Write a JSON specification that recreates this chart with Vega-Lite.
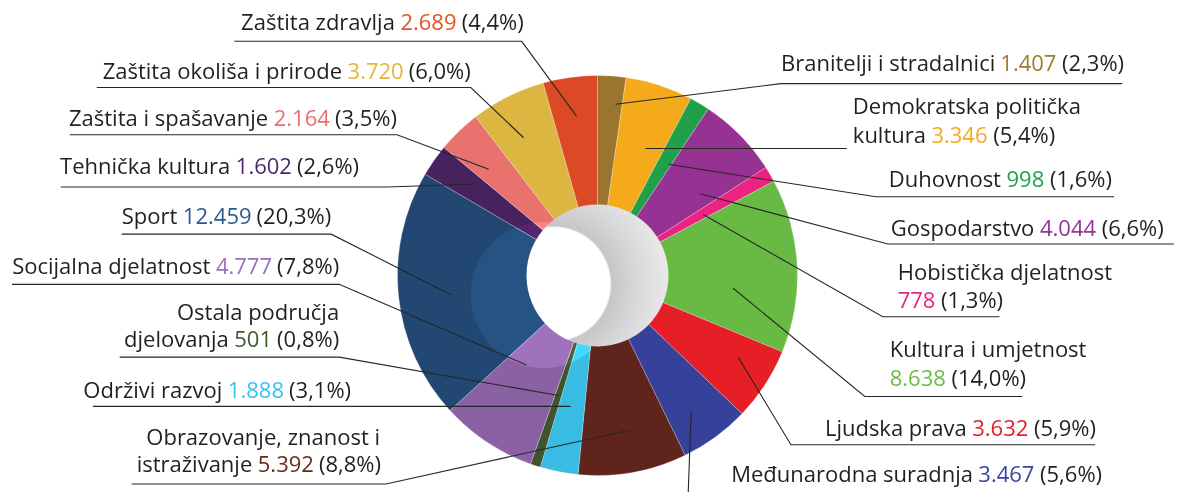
{
  "$schema": "https://vega.github.io/schema/vega-lite/v6.json",
  "width": 1177,
  "height": 495,
  "autosize": {"type": "fit", "contains": "padding"},
  "padding": 0,
  "background": "#ffffff",
  "config": {"view": {"stroke": null}},
  "resolve": {"scale": {"color": "independent"}},
  "datasets": {
    "slices": [
      {"ord": 1, "cat": "Branitelji i stradalnici", "value": 1407, "pct": 2.3},
      {"ord": 2, "cat": "Demokratska politička kultura", "value": 3346, "pct": 5.4},
      {"ord": 3, "cat": "Duhovnost", "value": 998, "pct": 1.6},
      {"ord": 4, "cat": "Gospodarstvo", "value": 4044, "pct": 6.6},
      {"ord": 5, "cat": "Hobistička djelatnost", "value": 778, "pct": 1.3},
      {"ord": 6, "cat": "Kultura i umjetnost", "value": 8638, "pct": 14.0},
      {"ord": 7, "cat": "Ljudska prava", "value": 3632, "pct": 5.9},
      {"ord": 8, "cat": "Međunarodna suradnja", "value": 3467, "pct": 5.6},
      {"ord": 9, "cat": "Obrazovanje, znanost i istraživanje", "value": 5392, "pct": 8.8},
      {"ord": 10, "cat": "Održivi razvoj", "value": 1888, "pct": 3.1},
      {"ord": 11, "cat": "Ostala područja djelovanja", "value": 501, "pct": 0.8},
      {"ord": 12, "cat": "Socijalna djelatnost", "value": 4777, "pct": 7.8},
      {"ord": 13, "cat": "Sport", "value": 12459, "pct": 20.3},
      {"ord": 14, "cat": "Tehnička kultura", "value": 1602, "pct": 2.6},
      {"ord": 15, "cat": "Zaštita i spašavanje", "value": 2164, "pct": 3.5},
      {"ord": 16, "cat": "Zaštita okoliša i prirode", "value": 3720, "pct": 6.0},
      {"ord": 17, "cat": "Zaštita zdravlja", "value": 2689, "pct": 4.4}
    ],
    "leaders": [
      {"cat": "Zaštita zdravlja", "seq": 1, "x": -10.5, "y": 81},
      {"cat": "Zaštita zdravlja", "seq": 2, "x": -38, "y": 119},
      {"cat": "Zaštita zdravlja", "seq": 3, "x": -182, "y": 119},
      {"cat": "Zaštita okoliša i prirode", "seq": 1, "x": -37, "y": 70},
      {"cat": "Zaštita okoliša i prirode", "seq": 2, "x": -63.5, "y": 95.5},
      {"cat": "Zaštita okoliša i prirode", "seq": 3, "x": -251, "y": 95.5},
      {"cat": "Zaštita i spašavanje", "seq": 1, "x": -54.5, "y": 54},
      {"cat": "Zaštita i spašavanje", "seq": 2, "x": -100.5, "y": 71.5},
      {"cat": "Zaštita i spašavanje", "seq": 3, "x": -264.5, "y": 71.5},
      {"cat": "Tehnička kultura", "seq": 1, "x": -61, "y": 46.5},
      {"cat": "Tehnička kultura", "seq": 2, "x": -105.5, "y": 45},
      {"cat": "Tehnička kultura", "seq": 3, "x": -269, "y": 45},
      {"cat": "Sport", "seq": 1, "x": -73, "y": -10},
      {"cat": "Sport", "seq": 2, "x": -133.5, "y": 21},
      {"cat": "Sport", "seq": 3, "x": -238.5, "y": 21},
      {"cat": "Socijalna djelatnost", "seq": 1, "x": -35.5, "y": -45.5},
      {"cat": "Socijalna djelatnost", "seq": 2, "x": -129.5, "y": -4.5},
      {"cat": "Socijalna djelatnost", "seq": 3, "x": -293.5, "y": -4.5},
      {"cat": "Ostala područja djelovanja", "seq": 1, "x": -19.5, "y": -61},
      {"cat": "Ostala područja djelovanja", "seq": 2, "x": -129.5, "y": -41.5},
      {"cat": "Ostala područja djelovanja", "seq": 3, "x": -239.5, "y": -41.5},
      {"cat": "Održivi razvoj", "seq": 1, "x": -13.5, "y": -66.5},
      {"cat": "Održivi razvoj", "seq": 2, "x": -253, "y": -66.5},
      {"cat": "Obrazovanje, znanost i istraživanje", "seq": 1, "x": 16.5, "y": -78.5},
      {"cat": "Obrazovanje, znanost i istraživanje", "seq": 2, "x": -106, "y": -106},
      {"cat": "Obrazovanje, znanost i istraživanje", "seq": 3, "x": -233.5, "y": -106},
      {"cat": "Branitelji i stradalnici", "seq": 1, "x": 9, "y": 87},
      {"cat": "Branitelji i stradalnici", "seq": 2, "x": 92, "y": 97.5},
      {"cat": "Branitelji i stradalnici", "seq": 3, "x": 263, "y": 97.5},
      {"cat": "Demokratska politička kultura", "seq": 1, "x": 24, "y": 64.5},
      {"cat": "Demokratska politička kultura", "seq": 2, "x": 125, "y": 64.5},
      {"cat": "Duhovnost", "seq": 1, "x": 35.5, "y": 56.5},
      {"cat": "Duhovnost", "seq": 2, "x": 139.5, "y": 40},
      {"cat": "Duhovnost", "seq": 3, "x": 259, "y": 40},
      {"cat": "Gospodarstvo", "seq": 1, "x": 51.5, "y": 41.5},
      {"cat": "Gospodarstvo", "seq": 2, "x": 145.5, "y": 16},
      {"cat": "Gospodarstvo", "seq": 3, "x": 289, "y": 16},
      {"cat": "Hobistička djelatnost", "seq": 1, "x": 53, "y": 31},
      {"cat": "Hobistička djelatnost", "seq": 2, "x": 143, "y": -21},
      {"cat": "Hobistička djelatnost", "seq": 3, "x": 201.5, "y": -21},
      {"cat": "Kultura i umjetnost", "seq": 1, "x": 68, "y": -6.5},
      {"cat": "Kultura i umjetnost", "seq": 2, "x": 134, "y": -61.5},
      {"cat": "Kultura i umjetnost", "seq": 3, "x": 213, "y": -61.5},
      {"cat": "Ljudska prava", "seq": 1, "x": 70.5, "y": -41.5},
      {"cat": "Ljudska prava", "seq": 2, "x": 97, "y": -86},
      {"cat": "Ljudska prava", "seq": 3, "x": 249.5, "y": -86},
      {"cat": "Međunarodna suradnja", "seq": 1, "x": 47, "y": -68.5},
      {"cat": "Međunarodna suradnja", "seq": 2, "x": 45.5, "y": -110}
    ],
    "labels": [
      {"cat": "Zaštita zdravlja", "side": "L", "part": "name", "text": "Zaštita zdravlja", "lx": -101.55, "ly": 124.5},
      {"cat": "Zaštita zdravlja", "side": "L", "part": "num", "text": "2.689", "lx": -70.65, "ly": 124.5},
      {"cat": "Zaštita zdravlja", "side": "L", "part": "pct", "text": "(4,4%)", "lx": -37, "ly": 124.5},
      {"cat": "Zaštita okoliša i prirode", "side": "L", "part": "name", "text": "Zaštita okoliša i prirode", "lx": -128.05, "ly": 100},
      {"cat": "Zaštita okoliša i prirode", "side": "L", "part": "num", "text": "3.720", "lx": -97.15, "ly": 100},
      {"cat": "Zaštita okoliša i prirode", "side": "L", "part": "pct", "text": "(6,0%)", "lx": -63.5, "ly": 100},
      {"cat": "Zaštita i spašavanje", "side": "L", "part": "name", "text": "Zaštita i spašavanje", "lx": -165.05, "ly": 76},
      {"cat": "Zaštita i spašavanje", "side": "L", "part": "num", "text": "2.164", "lx": -134.15, "ly": 76},
      {"cat": "Zaštita i spašavanje", "side": "L", "part": "pct", "text": "(3,5%)", "lx": -100.5, "ly": 76},
      {"cat": "Tehnička kultura", "side": "L", "part": "name", "text": "Tehnička kultura", "lx": -184.05, "ly": 51.5},
      {"cat": "Tehnička kultura", "side": "L", "part": "num", "text": "1.602", "lx": -153.15, "ly": 51.5},
      {"cat": "Tehnička kultura", "side": "L", "part": "pct", "text": "(2,6%)", "lx": -119.5, "ly": 51.5},
      {"cat": "Sport", "side": "L", "part": "name", "text": "Sport", "lx": -210.65, "ly": 26},
      {"cat": "Sport", "side": "L", "part": "num", "text": "12.459", "lx": -173.4, "ly": 26},
      {"cat": "Sport", "side": "L", "part": "pct", "text": "(20,3%)", "lx": -133.5, "ly": 26},
      {"cat": "Socijalna djelatnost", "side": "L", "part": "name", "text": "Socijalna djelatnost", "lx": -194.05, "ly": 1},
      {"cat": "Socijalna djelatnost", "side": "L", "part": "num", "text": "4.777", "lx": -163.15, "ly": 1},
      {"cat": "Socijalna djelatnost", "side": "L", "part": "pct", "text": "(7,8%)", "lx": -129.5, "ly": 1},
      {"cat": "Ostala područja djelovanja", "side": "L", "part": "name", "text": "Ostala područja", "lx": -129.5, "ly": -22.5},
      {"cat": "Ostala područja djelovanja", "side": "L", "part": "name", "text": "djelovanja", "lx": -184.85, "ly": -36.5},
      {"cat": "Ostala područja djelovanja", "side": "L", "part": "num", "text": "501", "lx": -163.15, "ly": -36.5},
      {"cat": "Ostala područja djelovanja", "side": "L", "part": "pct", "text": "(0,8%)", "lx": -129.5, "ly": -36.5},
      {"cat": "Održivi razvoj", "side": "L", "part": "name", "text": "Održivi razvoj", "lx": -188.05, "ly": -62.5},
      {"cat": "Održivi razvoj", "side": "L", "part": "num", "text": "1.888", "lx": -157.15, "ly": -62.5},
      {"cat": "Održivi razvoj", "side": "L", "part": "pct", "text": "(3,1%)", "lx": -123.5, "ly": -62.5},
      {"cat": "Obrazovanje, znanost i istraživanje", "side": "L", "part": "name", "text": "Obrazovanje, znanost i", "lx": -109, "ly": -86},
      {"cat": "Obrazovanje, znanost i istraživanje", "side": "L", "part": "name", "text": "istraživanje", "lx": -173.05, "ly": -100},
      {"cat": "Obrazovanje, znanost i istraživanje", "side": "L", "part": "num", "text": "5.392", "lx": -142.15, "ly": -100},
      {"cat": "Obrazovanje, znanost i istraživanje", "side": "L", "part": "pct", "text": "(8,8%)", "lx": -108.5, "ly": -100},
      {"cat": "Branitelji i stradalnici", "side": "R", "part": "name", "text": "Branitelji i stradalnici", "lx": 92, "ly": 104},
      {"cat": "Branitelji i stradalnici", "side": "R", "part": "num", "text": "1.407", "lx": 201.95, "ly": 104},
      {"cat": "Branitelji i stradalnici", "side": "R", "part": "pct", "text": "(2,3%)", "lx": 232.9, "ly": 104},
      {"cat": "Demokratska politička kultura", "side": "R", "part": "name", "text": "Demokratska politička", "lx": 128, "ly": 82},
      {"cat": "Demokratska politička kultura", "side": "R", "part": "name", "text": "kultura", "lx": 128, "ly": 67.5},
      {"cat": "Demokratska politička kultura", "side": "R", "part": "num", "text": "3.346", "lx": 167.4, "ly": 67.5},
      {"cat": "Demokratska politička kultura", "side": "R", "part": "pct", "text": "(5,4%)", "lx": 198.35, "ly": 67.5},
      {"cat": "Duhovnost", "side": "R", "part": "name", "text": "Duhovnost", "lx": 146, "ly": 45},
      {"cat": "Duhovnost", "side": "R", "part": "num", "text": "998", "lx": 205.05, "ly": 45},
      {"cat": "Duhovnost", "side": "R", "part": "pct", "text": "(1,6%)", "lx": 226.8, "ly": 45},
      {"cat": "Gospodarstvo", "side": "R", "part": "name", "text": "Gospodarstvo", "lx": 147, "ly": 20},
      {"cat": "Gospodarstvo", "side": "R", "part": "num", "text": "4.044", "lx": 221.8, "ly": 20},
      {"cat": "Gospodarstvo", "side": "R", "part": "pct", "text": "(6,6%)", "lx": 252.75, "ly": 20},
      {"cat": "Hobistička djelatnost", "side": "R", "part": "name", "text": "Hobistička djelatnost", "lx": 150.5, "ly": -2.5},
      {"cat": "Hobistička djelatnost", "side": "R", "part": "num", "text": "778", "lx": 150.5, "ly": -16.5},
      {"cat": "Hobistička djelatnost", "side": "R", "part": "pct", "text": "(1,3%)", "lx": 172.25, "ly": -16.5},
      {"cat": "Kultura i umjetnost", "side": "R", "part": "name", "text": "Kultura i umjetnost", "lx": 146.5, "ly": -41.5},
      {"cat": "Kultura i umjetnost", "side": "R", "part": "num", "text": "8.638", "lx": 146.5, "ly": -56},
      {"cat": "Kultura i umjetnost", "side": "R", "part": "pct", "text": "(14,0%)", "lx": 177.45, "ly": -56},
      {"cat": "Ljudska prava", "side": "R", "part": "name", "text": "Ljudska prava", "lx": 114, "ly": -81.5},
      {"cat": "Ljudska prava", "side": "R", "part": "num", "text": "3.632", "lx": 187.85, "ly": -81.5},
      {"cat": "Ljudska prava", "side": "R", "part": "pct", "text": "(5,9%)", "lx": 218.8, "ly": -81.5},
      {"cat": "Međunarodna suradnja", "side": "R", "part": "name", "text": "Međunarodna suradnja", "lx": 67, "ly": -105},
      {"cat": "Međunarodna suradnja", "side": "R", "part": "num", "text": "3.467", "lx": 190.9, "ly": -105},
      {"cat": "Međunarodna suradnja", "side": "R", "part": "pct", "text": "(5,6%)", "lx": 221.85, "ly": -105}
    ]
  },
  "layer": [
    {
      "data": {"name": "slices"},
      "mark": {"type": "arc", "outerRadius": 200, "innerRadius": 70, "stroke": "#ffffff", "strokeWidth": 0.4, "strokeOpacity": 0.6},
      "encoding": {
        "theta": {"field": "value", "type": "quantitative", "stack": true},
        "order": {"field": "ord", "type": "quantitative", "sort": "ascending"},
        "color": {
          "field": "cat", "type": "nominal", "legend": null,
          "scale": {
            "domain": ["Branitelji i stradalnici", "Demokratska politička kultura", "Duhovnost", "Gospodarstvo", "Hobistička djelatnost", "Kultura i umjetnost", "Ljudska prava", "Međunarodna suradnja", "Obrazovanje, znanost i istraživanje", "Održivi razvoj", "Ostala područja djelovanja", "Socijalna djelatnost", "Sport", "Tehnička kultura", "Zaštita i spašavanje", "Zaštita okoliša i prirode", "Zaštita zdravlja"],
            "range": ["#997530", "#F5AA1C", "#21A04A", "#963292", "#EC2383", "#69BA45", "#E61E26", "#36429A", "#5F251C", "#38BCE4", "#3E5530", "#8A62A3", "#224772", "#48215F", "#E9716E", "#DDB541", "#DC4A25"]
          }
        },
        "x": {"datum": 0, "type": "quantitative", "scale": {"domain": [-299.5, 289], "nice": false, "zero": false}, "axis": null},
        "y": {"datum": 0, "type": "quantitative", "scale": {"domain": [-107.5, 140], "nice": false, "zero": false}, "axis": null}
      }
    },
    {
      "data": {"values": [{"part": "shade"}]},
      "mark": {"type": "arc", "outerRadius": 73, "innerRadius": 0, "theta": 0, "theta2": 6.2832, "fill": "#232323", "blend": "color-dodge"},
      "encoding": {
        "x": {"datum": -27, "type": "quantitative", "scale": {"domain": [-299.5, 289], "nice": false, "zero": false}, "axis": null},
        "y": {"datum": -10, "type": "quantitative", "scale": {"domain": [-107.5, 140], "nice": false, "zero": false}, "axis": null}
      }
    },
    {
      "data": {"values": [{"part": "hole"}]},
      "mark": {
        "type": "arc", "outerRadius": 71, "innerRadius": 0, "theta": 0, "theta2": 6.2832,
        "fill": {
          "gradient": "radial", "x1": 0.19, "y1": 0.56, "r1": 0, "x2": 0.19, "y2": 0.56, "r2": 0.8,
          "stops": [
            {"offset": 0, "color": "#ffffff"},
            {"offset": 0.5, "color": "#ffffff"},
            {"offset": 0.51, "color": "#c6c6c8"},
            {"offset": 0.75, "color": "#d9d9db"},
            {"offset": 1, "color": "#e8e8e9"}
          ]
        }
      },
      "encoding": {
        "x": {"datum": 0, "type": "quantitative", "scale": {"domain": [-299.5, 289], "nice": false, "zero": false}, "axis": null},
        "y": {"datum": 0, "type": "quantitative", "scale": {"domain": [-107.5, 140], "nice": false, "zero": false}, "axis": null}
      }
    },
    {
      "data": {"name": "leaders"},
      "mark": {"type": "line", "color": "#262626", "strokeWidth": 1.1, "interpolate": "linear"},
      "encoding": {
        "x": {"field": "x", "type": "quantitative", "scale": {"domain": [-299.5, 289], "nice": false, "zero": false}, "axis": null},
        "y": {"field": "y", "type": "quantitative", "scale": {"domain": [-107.5, 140], "nice": false, "zero": false}, "axis": null},
        "detail": {"field": "cat", "type": "nominal"},
        "order": {"field": "seq", "type": "quantitative"}
      }
    },
    {
      "data": {"name": "labels"},
      "transform": [{"filter": "datum.side === 'L' && datum.part !== 'num'"}],
      "mark": {"type": "text", "align": "right", "baseline": "alphabetic", "font": "Open Sans", "fontSize": 22, "color": "#231F20"},
      "encoding": {
        "x": {"field": "lx", "type": "quantitative", "scale": {"domain": [-299.5, 289], "nice": false, "zero": false}, "axis": null},
        "y": {"field": "ly", "type": "quantitative", "scale": {"domain": [-107.5, 140], "nice": false, "zero": false}, "axis": null},
        "text": {"field": "text"}
      }
    },
    {
      "data": {"name": "labels"},
      "transform": [{"filter": "datum.side === 'R' && datum.part !== 'num'"}],
      "mark": {"type": "text", "align": "left", "baseline": "alphabetic", "font": "Open Sans", "fontSize": 22, "color": "#231F20"},
      "encoding": {
        "x": {"field": "lx", "type": "quantitative", "scale": {"domain": [-299.5, 289], "nice": false, "zero": false}, "axis": null},
        "y": {"field": "ly", "type": "quantitative", "scale": {"domain": [-107.5, 140], "nice": false, "zero": false}, "axis": null},
        "text": {"field": "text"}
      }
    },
    {
      "data": {"name": "labels"},
      "transform": [{"filter": "datum.side === 'L' && datum.part === 'num'"}],
      "mark": {"type": "text", "align": "right", "baseline": "alphabetic", "font": "Open Sans", "fontSize": 22},
      "encoding": {
        "x": {"field": "lx", "type": "quantitative", "scale": {"domain": [-299.5, 289], "nice": false, "zero": false}, "axis": null},
        "y": {"field": "ly", "type": "quantitative", "scale": {"domain": [-107.5, 140], "nice": false, "zero": false}, "axis": null},
        "text": {"field": "text"},
        "color": {
          "field": "cat", "type": "nominal", "legend": null,
          "scale": {
            "domain": ["Branitelji i stradalnici", "Demokratska politička kultura", "Duhovnost", "Gospodarstvo", "Hobistička djelatnost", "Kultura i umjetnost", "Ljudska prava", "Međunarodna suradnja", "Obrazovanje, znanost i istraživanje", "Održivi razvoj", "Ostala područja djelovanja", "Socijalna djelatnost", "Sport", "Tehnička kultura", "Zaštita i spašavanje", "Zaštita okoliša i prirode", "Zaštita zdravlja"],
            "range": ["#A07C32", "#F7A823", "#1FA24A", "#943496", "#E9237F", "#6CBD45", "#E41E26", "#3A479D", "#6A2A1F", "#3CC2EC", "#3E5B2C", "#9A70BE", "#2D5A8E", "#4B2A6E", "#EF6E6E", "#E5B53A", "#E5532A"]
          }
        }
      }
    },
    {
      "data": {"name": "labels"},
      "transform": [{"filter": "datum.side === 'R' && datum.part === 'num'"}],
      "mark": {"type": "text", "align": "left", "baseline": "alphabetic", "font": "Open Sans", "fontSize": 22},
      "encoding": {
        "x": {"field": "lx", "type": "quantitative", "scale": {"domain": [-299.5, 289], "nice": false, "zero": false}, "axis": null},
        "y": {"field": "ly", "type": "quantitative", "scale": {"domain": [-107.5, 140], "nice": false, "zero": false}, "axis": null},
        "text": {"field": "text"},
        "color": {
          "field": "cat", "type": "nominal", "legend": null,
          "scale": {
            "domain": ["Branitelji i stradalnici", "Demokratska politička kultura", "Duhovnost", "Gospodarstvo", "Hobistička djelatnost", "Kultura i umjetnost", "Ljudska prava", "Međunarodna suradnja", "Obrazovanje, znanost i istraživanje", "Održivi razvoj", "Ostala područja djelovanja", "Socijalna djelatnost", "Sport", "Tehnička kultura", "Zaštita i spašavanje", "Zaštita okoliša i prirode", "Zaštita zdravlja"],
            "range": ["#A07C32", "#F7A823", "#1FA24A", "#943496", "#E9237F", "#6CBD45", "#E41E26", "#3A479D", "#6A2A1F", "#3CC2EC", "#3E5B2C", "#9A70BE", "#2D5A8E", "#4B2A6E", "#EF6E6E", "#E5B53A", "#E5532A"]
          }
        }
      }
    }
  ]
}
